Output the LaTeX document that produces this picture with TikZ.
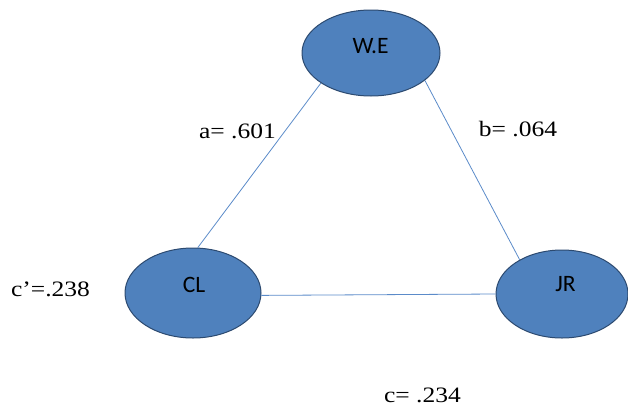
\documentclass[tikz,border=0pt]{standalone}
\usepackage{fontspec}
\setmainfont{Liberation Serif}
\newfontfamily\labelfont{Carlito}
\usetikzlibrary{shapes.geometric}
\definecolor{ovalfill}{HTML}{4F81BD}
\definecolor{ovaledge}{HTML}{2C4A70}
\definecolor{linkblue}{HTML}{5B8BC9}
% coefficients are set slightly wide
\newcommand{\widetext}[1]{\scalebox{1.16}[1]{#1}}
\tikzset{
  oval/.style={ellipse, draw=ovaledge, fill=ovalfill, line width=1pt, inner sep=0pt},
  ovaltext/.style={font=\labelfont\fontsize{23.5}{25}\selectfont, text=black, inner sep=0pt},
  coef/.style={font=\fontsize{22}{24}\selectfont, text=black, inner sep=0pt},
  link/.style={draw=linkblue, line width=0.8pt}
}
\begin{document}
\begin{tikzpicture}[x=1pt, y=-1pt]
  \useasboundingbox (0,0) rectangle (628,407);
  % variables
  \node[oval, minimum width=138pt, minimum height=86pt] (we) at (371,53) {};
  \node[oval, minimum width=136pt, minimum height=90pt] (cl) at (193,293) {};
  \node[oval, minimum width=132pt, minimum height=88pt] (jr) at (562,294) {};
  \node[ovaltext] (welbl) at (370.5,46) {W.E};
  \node[ovaltext] (cllbl) at (194,284.5) {CL};
  \node[ovaltext] (jrlbl) at (565.5,284.5) {JR};
  % paths
  \draw[link] (we.211) -- (cl.84);
  \draw[link] (we.-27) -- (jr.141);
  \draw[link] (cl.-2) -- (jr.180);
  % path coefficients
  \node[coef] (a) at (237.5,131) {\widetext{a= .601}};
  \node[coef] (b) at (518,129.5) {\widetext{b= .064}};
  \node[coef] (cp) at (50.5,289) {\widetext{c’=.238}};
  \node[coef] (c) at (422.5,395) {\widetext{c= .234}};
\end{tikzpicture}
\end{document}
